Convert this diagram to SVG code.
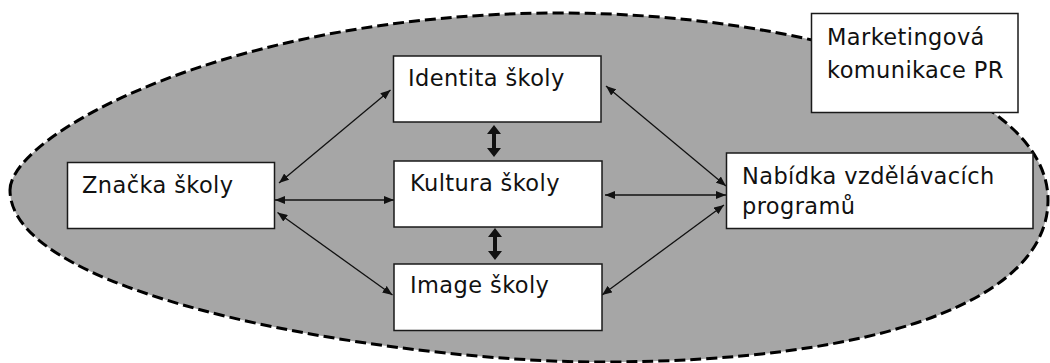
<svg xmlns="http://www.w3.org/2000/svg" width="1050" height="363" viewBox="0 0 1050 363">
<defs>
<style>
.box{fill:#ffffff;stroke:#1a1a1a;stroke-width:1.5}
.lbl{font-family:"DejaVu Sans","Verdana",sans-serif;font-size:22.5px;letter-spacing:0.4px;fill:#111111}
.con{stroke:#111111;stroke-width:1.3;fill:none;marker-start:url(#ah);marker-end:url(#ah)}
.thick{fill:#111111}
</style>
<marker id="ah" viewBox="0 0 10 8" refX="10" refY="4" markerWidth="10" markerHeight="8" markerUnits="userSpaceOnUse" orient="auto-start-reverse">
<path d="M0,0 L10,4 L0,8 z" fill="#111111"/>
</marker>
</defs>
<rect width="1050" height="363" fill="#ffffff"/>
<g id="ellipse">
<path d="M10,190 C10,135 230,13 560,13 C800,13 1048,85 1048,200 C1048,300 880,362 600,362 C400,362 10,300 10,190 Z" fill="#a6a6a6" stroke="#000000" stroke-width="3" stroke-dasharray="11 5"/>
</g>
<g id="connectors">
<line class="con" x1="279" y1="183" x2="390.5" y2="90"/>
<line class="con" x1="275" y1="200" x2="394" y2="200"/>
<line class="con" x1="277.5" y1="212.5" x2="392.5" y2="295"/>
<line class="con" x1="606" y1="86" x2="726" y2="186"/>
<line class="con" x1="605" y1="195" x2="726" y2="195"/>
<line class="con" x1="602" y1="295" x2="724" y2="205"/>
<path class="thick" d="M494,125 L487,134 L492,134 L492,148 L487,148 L494,157 L501,148 L496,148 L496,134 L501,134 Z"/>
<path class="thick" d="M495,228 L488,237 L493,237 L493,251 L488,251 L495,260 L502,251 L497,251 L497,237 L502,237 Z"/>
</g>
<g id="identita">
<rect class="box" x="393.5" y="56" width="207.5" height="66"/>
<text class="lbl" x="408" y="86">Identita školy</text>
</g>
<g id="znacka">
<rect class="box" x="67.5" y="162.5" width="207" height="66"/>
<text class="lbl" x="82" y="192.5">Značka školy</text>
</g>
<g id="kultura">
<rect class="box" x="394" y="161" width="208" height="66"/>
<text class="lbl" x="410" y="190.5">Kultura školy</text>
</g>
<g id="image">
<rect class="box" x="394" y="264" width="208" height="66.5"/>
<text class="lbl" x="410" y="293">Image školy</text>
</g>
<g id="nabidka">
<rect class="box" x="726.5" y="153" width="306.5" height="75.5"/>
<text class="lbl" x="742" y="184">Nabídka vzdělávacích</text>
<text class="lbl" x="742" y="214">programů</text>
</g>
<g id="marketing">
<rect class="box" x="811.5" y="13.5" width="206.5" height="99"/>
<text class="lbl" x="827" y="44.5">Marketingová</text>
<text class="lbl" x="827" y="77.5">komunikace PR</text>
</g>
</svg>
